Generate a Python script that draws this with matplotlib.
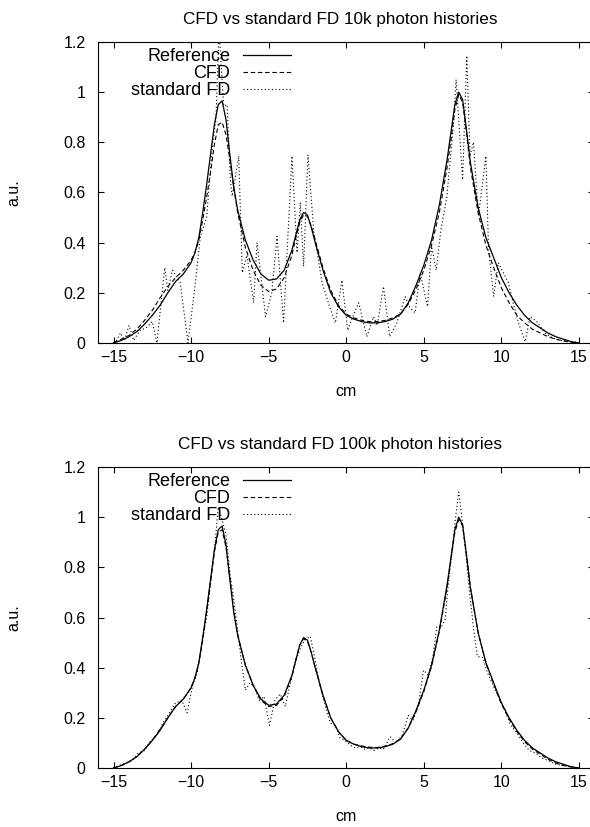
import numpy as np
import matplotlib
matplotlib.use("Agg")
from matplotlib import pyplot as plt
from matplotlib.ticker import FuncFormatter

plt.rcParams['font.family'] = ['Liberation Sans', 'DejaVu Sans']
plt.rcParams['font.size'] = 11.5

# reference profile (same in both panels)
ref_x = [-15, -14.5, -14, -13.5, -13, -12.5, -12, -11.5, -11, -10.5, -10, -9.75, -9.5, -9.25,
         -9, -8.75, -8.5, -8.25, -8, -7.75, -7.5, -7.25, -7, -6.5, -6, -5.5, -5, -4.5, -4,
         -3.5, -3.25, -3, -2.75, -2.5, -2.25, -2, -1.5, -1, -0.5, 0, 0.5, 1, 1.5, 2, 2.5, 3,
         3.5, 4, 4.5, 5, 5.5, 6, 6.5, 6.75, 7, 7.25, 7.5, 7.75, 8, 8.5, 9, 9.5, 10, 10.5,
         11, 11.5, 12, 12.5, 13, 13.5, 14, 14.5, 15]
ref_y = [0.0, 0.01, 0.025, 0.045, 0.075, 0.11, 0.15, 0.2, 0.245, 0.275, 0.32, 0.36, 0.42, 0.52,
         0.63, 0.75, 0.87, 0.95, 0.965, 0.89, 0.75, 0.62, 0.53, 0.41, 0.33, 0.275, 0.25, 0.255, 0.29,
         0.37, 0.43, 0.49, 0.52, 0.51, 0.46, 0.4, 0.29, 0.2, 0.145, 0.11, 0.095, 0.085, 0.08, 0.08,
         0.085, 0.095, 0.115, 0.16, 0.23, 0.31, 0.41, 0.55, 0.73, 0.84, 0.95, 1.0, 0.97, 0.85, 0.72,
         0.54, 0.42, 0.34, 0.26, 0.2, 0.15, 0.11, 0.08, 0.06, 0.04, 0.025, 0.015, 0.005, 0.0]

# CFD, 10k histories (same x grid as reference)
cfd10k_y = [0.0, 0.015, 0.03, 0.055, 0.09, 0.13, 0.18, 0.225, 0.26, 0.29, 0.33, 0.36, 0.41, 0.49,
            0.58, 0.68, 0.79, 0.87, 0.88, 0.83, 0.73, 0.62, 0.52, 0.38, 0.29, 0.23, 0.205, 0.215, 0.26,
            0.35, 0.42, 0.48, 0.51, 0.505, 0.465, 0.41, 0.3, 0.21, 0.15, 0.115, 0.1, 0.09, 0.085, 0.085,
            0.09, 0.1, 0.115, 0.155, 0.215, 0.29, 0.39, 0.52, 0.7, 0.81, 0.93, 0.99, 0.96, 0.84, 0.7,
            0.52, 0.39, 0.3, 0.22, 0.16, 0.11, 0.08, 0.055, 0.04, 0.025, 0.015, 0.008, 0.003, 0.0]

# CFD, 100k histories
cfd100k_y = [0.0, 0.01, 0.025, 0.045, 0.075, 0.11, 0.155, 0.2, 0.245, 0.275, 0.32, 0.36, 0.42, 0.51,
             0.62, 0.74, 0.86, 0.94, 0.95, 0.88, 0.76, 0.63, 0.53, 0.41, 0.33, 0.27, 0.245, 0.25, 0.285,
             0.365, 0.43, 0.49, 0.515, 0.505, 0.46, 0.4, 0.29, 0.2, 0.145, 0.11, 0.095, 0.088, 0.083, 0.082,
             0.087, 0.097, 0.117, 0.16, 0.225, 0.305, 0.405, 0.545, 0.72, 0.83, 0.94, 0.99, 0.965, 0.85, 0.72,
             0.54, 0.42, 0.335, 0.255, 0.195, 0.145, 0.105, 0.075, 0.055, 0.035, 0.02, 0.01, 0.004, 0.0]

# standard FD, 10k histories
fd10k_x = [-15, -14.8, -14.55, -14.3, -14.0, -13.7, -13.3, -12.9, -12.5, -12.2, -11.7, -11.5, -11.2,
           -10.7, -10.2, -9.8, -9.4, -9.0, -8.6, -8.4, -8.2, -7.9, -7.68, -7.47, -7.35, -6.93, -6.7,
           -6.4, -5.97, -5.75, -5.2, -4.8, -4.46, -4.04, -3.5, -3.17, -2.96, -2.75, -2.47, -2.1, -1.56,
           -1.1, -0.7, -0.28, 0.1, 0.45, 0.8, 1.33, 1.76, 2.0, 2.4, 2.8, 3.26, 3.8, 4.1, 4.44, 4.76,
           5.24, 5.5, 5.8, 6.1, 6.48, 6.9, 7.08, 7.5, 7.77, 7.98, 8.2, 8.52, 9.0, 9.17, 9.5, 9.8,
           10.45, 10.8, 11.1, 11.53, 11.85, 12.28, 12.8, 13.3, 13.8, 14.3, 15]
fd10k_y = [0.0, 0.01, 0.04, 0.01, 0.07, 0.01, 0.05, 0.06, 0.085, 0.0, 0.30, 0.21, 0.29,
           0.24, 0.0, 0.2, 0.425, 0.50, 0.8, 0.89, 1.25, 0.945, 0.95, 0.65, 0.585, 0.745, 0.28,
           0.35, 0.16, 0.40, 0.105, 0.2, 0.425, 0.08, 0.745, 0.36, 0.56, 0.305, 0.75, 0.45, 0.24,
           0.15, 0.08, 0.25, 0.05, 0.11, 0.16, 0.025, 0.105, 0.07, 0.225, 0.025, 0.08, 0.185, 0.14, 0.12, 0.28,
           0.145, 0.385, 0.29, 0.45, 0.58, 0.865, 1.05, 0.65, 1.145, 0.745, 0.8, 0.505, 0.745, 0.38, 0.185, 0.32,
           0.24, 0.15, 0.08, 0.005, 0.105, 0.085, 0.04, 0.02, 0.01, 0.01, 0.0]

# standard FD, 100k histories
fd100k_x = [-15, -14.6, -14.2, -13.8, -13.4, -13.0, -12.6, -12.2, -11.8, -11.4, -11.0, -10.6, -10.26,
            -9.9, -9.6, -9.3, -9.0, -8.7, -8.45, -8.25, -8.0, -7.75, -7.5, -7.25, -7.0, -6.75, -6.5,
            -6.2, -5.9, -5.6, -5.3, -4.95, -4.6, -4.25, -3.93, -3.6, -3.3, -3.0, -2.7, -2.32, -2.0,
            -1.7, -1.35, -1.03, -0.7, -0.4, -0.1, 0.3, 0.6, 0.9, 1.2, 1.5, 1.8, 2.1, 2.4, 2.83, 3.2,
            3.6, 4.0, 4.3, 4.65, 4.98, 5.3, 5.6, 5.84, 6.1, 6.37, 6.6, 6.85, 7.05, 7.25, 7.45, 7.7,
            7.95, 8.2, 8.45, 8.8, 9.1, 9.5, 9.85, 10.24, 10.6, 11.0, 11.4, 11.8, 12.2, 12.6, 13.0,
            13.5, 14.0, 14.5, 15]
fd100k_y = [0.0, 0.01, 0.02, 0.03, 0.06, 0.07, 0.11, 0.13, 0.18, 0.22, 0.26, 0.27, 0.22,
            0.33, 0.38, 0.5, 0.6, 0.76, 0.9, 1.04, 0.99, 0.93, 0.78, 0.67, 0.55, 0.42, 0.31,
            0.34, 0.32, 0.27, 0.285, 0.17, 0.27, 0.295, 0.245, 0.34, 0.42, 0.47, 0.51, 0.525, 0.43,
            0.33, 0.25, 0.18, 0.17, 0.12, 0.11, 0.09, 0.08, 0.085, 0.075, 0.08, 0.07, 0.08, 0.075, 0.125, 0.1,
            0.13, 0.21, 0.19, 0.25, 0.39, 0.37, 0.45, 0.565, 0.56, 0.59, 0.75, 0.88, 1.0, 1.1, 1.0, 0.86,
            0.7, 0.56, 0.445, 0.44, 0.38, 0.325, 0.28, 0.23, 0.17, 0.14, 0.1, 0.07, 0.06, 0.04, 0.03,
            0.015, 0.01, 0.005, 0.0]

titles = ["CFD vs standard FD 10k photon histories", "CFD vs standard FD 100k photon histories"]
x_ticks = [-15, -10, -5, 0, 5, 10, 15]
y_ticks = [0, 0.2, 0.4, 0.6, 0.8, 1.0, 1.2]

fig = plt.figure(figsize=(5.9, 8.27), dpi=100)
# right edge of the plot box falls just outside the image (as in the original)
ax1 = fig.add_axes([0.1661, 0.5853, 0.8415, 0.364])
ax2 = fig.add_axes([0.1661, 0.0713, 0.8415, 0.364])

panels = [(ax1, cfd10k_y, fd10k_x, fd10k_y, titles[0]),
          (ax2, cfd100k_y, fd100k_x, fd100k_y, titles[1])]

for ax, cfd_y, fd_x, fd_y, title in panels:
    ax.plot(ref_x, ref_y, color='black', lw=0.9, label='Reference')
    ax.plot(ref_x, cfd_y, color='black', lw=0.8, dashes=(4, 2.5), label='CFD')
    ax.plot(fd_x, fd_y, color='black', lw=0.8, dashes=(1, 2.2), label='standard FD')
    ax.set_xlim(-16, 16)
    ax.set_ylim(0, 1.2)
    ax.set_xticks(x_ticks)
    ax.set_yticks(y_ticks)
    ax.yaxis.set_major_formatter(FuncFormatter(lambda v, p: '%g' % v))
    ax.tick_params(direction='in', top=True, right=True, length=4.5, width=0.8)
    ax.tick_params(axis='y', pad=9)
    ax.tick_params(axis='x', pad=5)
    for s in ax.spines.values():
        s.set_linewidth(0.8)
    ax.set_title(title, fontsize=12.3, pad=13, x=0.4874)
    ax.set_xlabel('cm')
    ax.set_ylabel('a.u.')
    ax.xaxis.set_label_coords(0.5, -0.135)
    ax.yaxis.set_label_coords(-0.155, 0.5)
    ax.legend(loc='upper left', bbox_to_anchor=(0.066, 0.979), frameon=False, markerfirst=False,
              fontsize=13, handlelength=2.66, handletextpad=0.72, labelspacing=-0.01,
              borderpad=0, borderaxespad=0)

fig.savefig('out.png', dpi=100)
